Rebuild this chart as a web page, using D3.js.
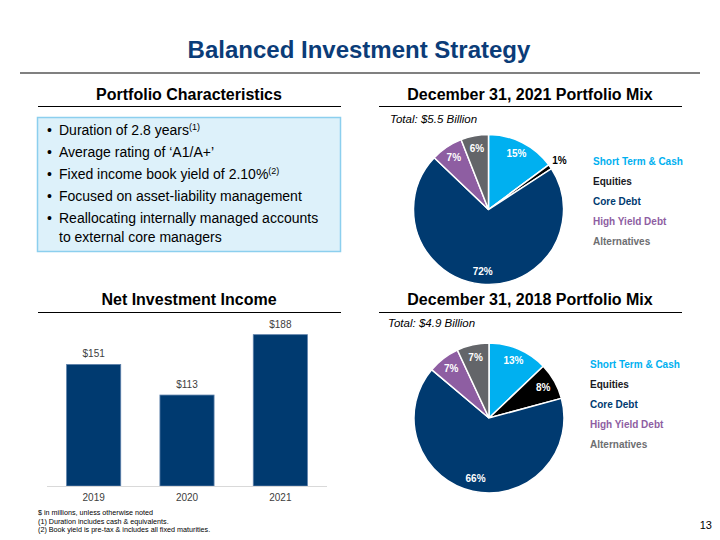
<!DOCTYPE html>
<html><head><meta charset="utf-8">
<script src="https://cdn.jsdelivr.net/npm/d3@7"></script>
<style>
html,body{margin:0;padding:0;background:#fff;}
svg{display:block;font-family:"Liberation Sans",Arial,sans-serif;}
</style></head>
<body>
<svg id="chart" width="720" height="540"></svg>
<script>
const categories = ["Short Term & Cash","Equities","Core Debt","High Yield Debt","Alternatives"];
const mix2021 = [15, 1, 72, 7, 6];
const mix2018 = [13, 8, 66, 7, 7];
const years = ["2019","2020","2021"];
const nii = [151, 113, 188];
const bullets = [
  ["Duration of 2.8 years", "(1)"],
  ["Average rating of \u2018A1/A+\u2019", ""],
  ["Fixed income book yield of 2.10%", "(2)"],
  ["Focused on asset-liability management", ""],
  ["Reallocating internally managed accounts", ""]
];
const footnotes = ["$ in millions, unless otherwise noted","(1) Duration includes cash & equivalents.","(2) Book yield is pre-tax & includes all fixed maturities."];

const sliceColors = ["#00B0F0","#000000","#003A70","#8E5EA2","#636569"];
const legendColors = ["#00B0F0","#1a1a24","#003A70","#8E5EA2","#6d6e71"];

const svg = d3.select("#chart");

// Title
svg.append("text").attr("x",359).attr("y",58).attr("text-anchor","middle")
  .attr("font-size",24).attr("font-weight","bold").attr("fill","#0B3C78")
  .text("Balanced Investment Strategy");
svg.append("line").attr("x1",20).attr("x2",700).attr("y1",73).attr("y2",73)
  .attr("stroke","#808080").attr("stroke-width",2);

// Section headings
function heading(cx, y, lx1, lx2, ly, txt){
  svg.append("text").attr("x",cx).attr("y",y).attr("text-anchor","middle")
    .attr("font-size",16).attr("font-weight","bold").attr("fill","#000").text(txt);
  svg.append("line").attr("x1",lx1).attr("x2",lx2).attr("y1",ly).attr("y2",ly)
    .attr("stroke","#000").attr("stroke-width",1);
}
heading(189, 100, 38, 341, 106.5, "Portfolio Characteristics");
heading(530, 100, 379, 682, 106.5, "December 31, 2021 Portfolio Mix");
heading(189, 305, 38, 341, 312.5, "Net Investment Income");
heading(530, 305, 379, 682, 312.5, "December 31, 2018 Portfolio Mix");

// Bullet box
svg.append("rect").attr("x",37.5).attr("y",117.5).attr("width",303).attr("height",134)
  .attr("fill","#DDF1FA").attr("stroke","#8CCFEE").attr("stroke-width",1.5);
const by = [135, 157, 179, 201, 223];
bullets.forEach((b,i)=>{
  svg.append("text").attr("x",47).attr("y",by[i]).attr("font-size",14).attr("fill","#000").text("\u2022");
  const t = svg.append("text").attr("x",59).attr("y",by[i]).attr("font-size",14).attr("fill","#000");
  t.append("tspan").text(b[0]);
  if(b[1]) t.append("tspan").attr("font-size",9).attr("dy",-5).text(b[1]);
});
svg.append("text").attr("x",59).attr("y",242).attr("font-size",14).attr("fill","#000").text("to external core managers");

// Pies
function drawPie(cx, cy, r, values, legendX, legendY0, totalX, totalY, totalTxt){
  svg.append("text").attr("x",totalX).attr("y",totalY).attr("font-size",11.5)
    .attr("font-style","italic").attr("fill","#000").text(totalTxt);
  const data = values.map((v,i)=>({v, i}));
  const pie = d3.pie().value(d=>d.v).sort(null);
  const arcs = pie(data);
  const arc = d3.arc().innerRadius(0).outerRadius(r);
  const labelArc = d3.arc().innerRadius(r*0.83).outerRadius(r*0.83);
  const outArc = d3.arc().innerRadius(r*1.15).outerRadius(r*1.15);
  const g = svg.append("g").attr("transform",`translate(${cx},${cy})`);
  g.selectAll("path").data(arcs).join("path").attr("d",arc)
    .attr("fill",d=>sliceColors[d.data.i]).attr("stroke","#fff").attr("stroke-width",1.5);
  g.selectAll("text").data(arcs).join("text")
    .attr("transform",d=>{
      const c = (d.data.v < 3 ? outArc : labelArc).centroid(d);
      return `translate(${c[0]},${c[1]})`;
    })
    .attr("text-anchor","middle").attr("dominant-baseline","central")
    .attr("font-size",10).attr("font-weight","bold")
    .attr("fill",d=>d.data.v < 3 ? "#000" : "#fff")
    .text(d=>d.data.v + "%");
  categories.forEach((c,i)=>{
    svg.append("text").attr("x",legendX).attr("y",legendY0 + i*20)
      .attr("font-size",10).attr("font-weight","bold").attr("fill",legendColors[i]).text(c);
  });
}
drawPie(488.5, 209.5, 75, mix2021, 593, 165, 390, 123, "Total: $5.5 Billion");
drawPie(489, 418, 75, mix2018, 590, 368, 388, 327, "Total: $4.9 Billion");

// Bars
const x = d3.scaleBand().domain(years).range([47, 327]).paddingInner(0.42).paddingOuter(0.21);
const y = d3.scaleLinear().domain([0, 200]).range([486, 325]);
svg.selectAll("rect.bar").data(years).join("rect").attr("class","bar")
  .attr("x",d=>x(d)).attr("width",x.bandwidth())
  .attr("y",(d,i)=>y(nii[i])).attr("height",(d,i)=>y(0)-y(nii[i]))
  .attr("fill","#003A70").attr("stroke","#5d80aa").attr("stroke-width",0.8);
svg.append("line").attr("x1",47).attr("x2",327).attr("y1",486.5).attr("y2",486.5)
  .attr("stroke","#d9d9d9").attr("stroke-width",1);
svg.selectAll("text.val").data(years).join("text").attr("class","val")
  .attr("x",d=>x(d)+x.bandwidth()/2).attr("y",(d,i)=>y(nii[i])-7)
  .attr("text-anchor","middle").attr("font-size",10).attr("fill","#404040")
  .text((d,i)=>"$"+nii[i]);
svg.selectAll("text.yr").data(years).join("text").attr("class","yr")
  .attr("x",d=>x(d)+x.bandwidth()/2).attr("y",501)
  .attr("text-anchor","middle").attr("font-size",10).attr("fill","#404040")
  .text(d=>d);

// Footnotes
footnotes.forEach((f,i)=>{
  svg.append("text").attr("x",38).attr("y",515 + i*8.6).attr("font-size",7.2).attr("fill","#000").text(f);
});
svg.append("text").attr("x",712).attr("y",529).attr("text-anchor","end").attr("font-size",11).attr("fill","#000").text("13");
</script>
</body></html>
